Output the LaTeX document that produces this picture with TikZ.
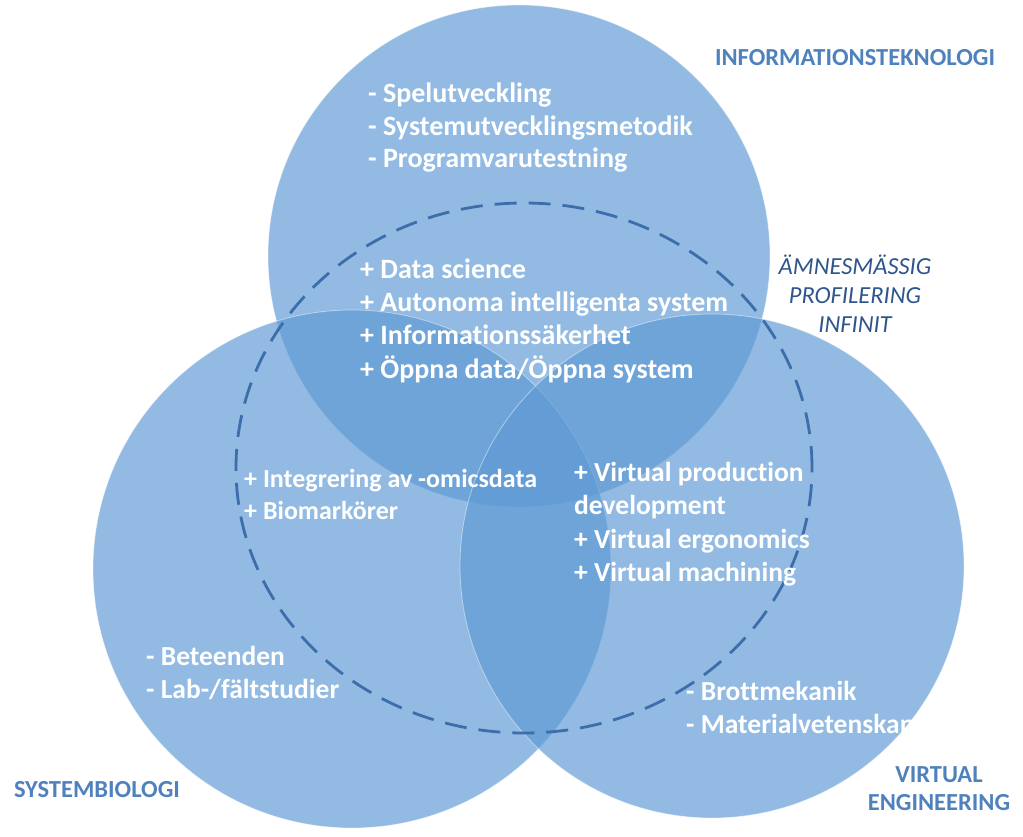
\documentclass[tikz,border=0pt]{standalone}
\usepackage{fontspec}
\setmainfont{Carlito}[Ligatures=NoCommon]
\usepackage{tikz}
\usetikzlibrary{shapes.geometric}
\definecolor{venn}{RGB}{95,154,212}
\definecolor{ring}{RGB}{60,110,172}
\definecolor{head}{RGB}{79,129,189}
\definecolor{note}{RGB}{46,86,140}
\tikzset{
  field/.style={circle, fill=venn, fill opacity=0.68, draw=white, draw opacity=0.45,
    line width=0.8pt, inner sep=0pt},
  core/.style={ellipse, draw=ring, line width=2.8pt, dash pattern=on 22pt off 12pt, inner sep=0pt},
  item/.style={text=white, font=\bfseries\fontsize{27.5}{32}\selectfont, anchor=base west, inner sep=0pt},
  bitem/.style={item, font=\bfseries\fontsize{28}{32}\selectfont},
  sitem/.style={item, font=\bfseries\fontsize{26}{30}\selectfont},
  head/.style={text=head, font=\bfseries\fontsize{24.5}{28}\selectfont, inner sep=0pt},
  note/.style={text=note, font=\itshape\fontsize{24.5}{29}\selectfont, inner sep=0pt}
}
\begin{document}
\begin{tikzpicture}[x=1pt,y=-1pt]
    \useasboundingbox (0,0) rectangle (1023,837);
    % cirklar
    \node[field, minimum size=502pt] (it) at (519,256) {};
    \node[field, minimum size=518pt] (sb) at (352,569) {};
    \node[field, minimum size=504pt] (ve) at (712,566) {};
    \node[core, minimum width=576pt, minimum height=530pt] (inf) at (524,468) {};
    % listor
    \foreach \y/\txt [count=\i] in {103/{- Spelutveckling}, 136/{- Systemutvecklingsmetodik},
        168/{- Programvarutestning}}
      \node[bitem] (itl\i) at (368,\y) {\txt};
    \foreach \y/\txt [count=\i] in {279/{+ Data science}, 311/{+ Autonoma intelligenta system},
        344/{+ Informationssäkerhet}, 378/{+ Öppna data/Öppna system}}
      \node[bitem] (infl\i) at (360,\y) {\txt};
    \foreach \y/\txt [count=\i] in {487/{+ Integrering av -omicsdata}, 519/{+ Biomarkörer}}
      \node[sitem] (sbi\i) at (244,\y) {\txt};
    \foreach \y/\txt [count=\i] in {481/{+ Virtual production}, 514/{development},
        548/{+ Virtual ergonomics}, 581/{+ Virtual machining}}
      \node[item] (vei\i) at (574,\y) {\txt};
    \foreach \y/\txt [count=\i] in {665/{- Beteenden}, 698/{- Lab-/fältstudier}}
      \node[item] (sbl\i) at (146,\y) {\txt};
    \foreach \y/\txt [count=\i] in {700/{- Brottmekanik}, 733/{- Materialvetenskap}}
      \node[item] (vel\i) at (686,\y) {\txt};
    % rubriker
    \node[head] (ithead) at (855,58) {INFORMATIONSTEKNOLOGI};
    \node[head] (sbhead) at (97,790) {SYSTEMBIOLOGI};
    \node[head, align=center] (vehead) at (939,789) {VIRTUAL\\ENGINEERING};
    \node[note, align=center] (infhead) at (855,294) {ÄMNESMÄSSIG\\PROFILERING\\INFINIT};
\end{tikzpicture}
\end{document}
